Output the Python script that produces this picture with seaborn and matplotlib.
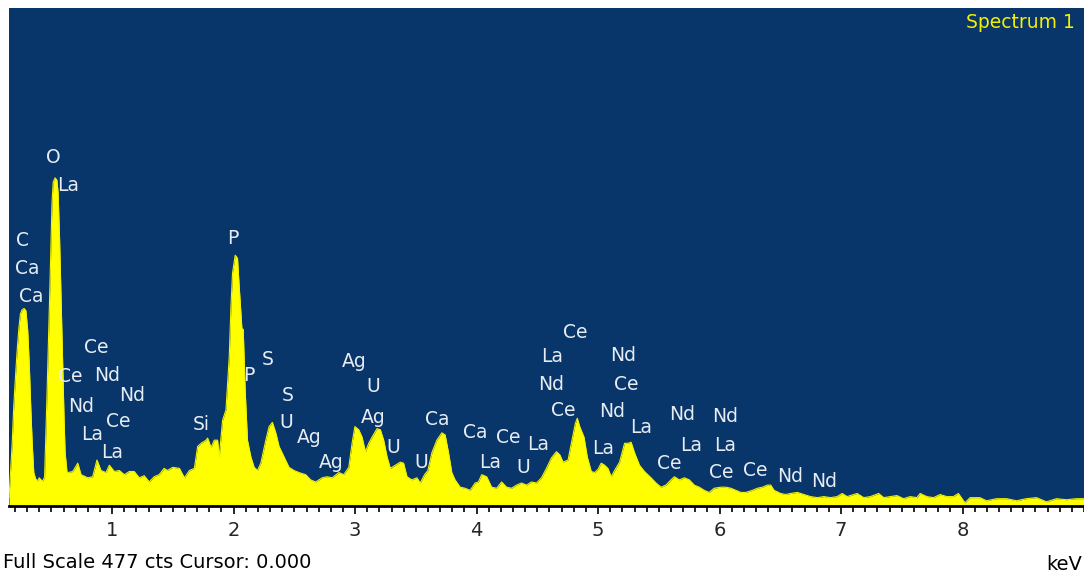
import numpy as np
import pandas as pd
import matplotlib
matplotlib.use('Agg')
import matplotlib.pyplot as plt
import seaborn as sns
from matplotlib import ticker

# spectrum: energy (keV) and counts, split by region
low_kev = [0.151, 0.165, 0.178, 0.19, 0.206, 0.22, 0.233, 0.245, 0.26, 0.275, 0.29, 0.305, 0.318, 0.33, 0.342,
           0.355, 0.37, 0.385, 0.40, 0.415, 0.43, 0.444, 0.463, 0.487, 0.505, 0.515, 0.53, 0.545, 0.555, 0.567,
           0.582, 0.594, 0.605, 0.613, 0.629, 0.635, 0.676, 0.717, 0.744, 0.799, 0.840, 0.875, 0.908, 0.949, 0.977,
           1.018, 1.059, 1.100, 1.141, 1.182, 1.223, 1.264, 1.305, 1.346, 1.387, 1.428, 1.455]
low_cts = [8, 35, 62, 95, 127, 152, 171, 184, 188, 189, 187, 168, 135, 95, 60,
           32, 26, 24, 27, 25, 24, 28, 103, 207, 290, 310, 314, 312, 300, 257,
           188, 131, 80, 51, 32, 32, 33, 41, 30, 27, 28, 44, 34, 32, 39,
           33, 34, 30, 33, 33, 27, 29, 23, 28, 30, 36, 34]

mid_kev = [1.499, 1.554, 1.595, 1.636, 1.677, 1.704, 1.732, 1.773, 1.786, 1.814, 1.841, 1.868, 1.882, 1.909, 1.937,
           1.964, 1.978, 1.991, 2.013, 2.032, 2.046, 2.068, 2.079, 2.095, 2.114, 2.142, 2.169, 2.196, 2.224, 2.265,
           2.292, 2.319, 2.347, 2.374, 2.415, 2.456, 2.497, 2.538, 2.593, 2.634, 2.675, 2.729, 2.770, 2.811, 2.866,
           2.907, 2.948, 2.975, 2.998, 3.030, 3.057, 3.085, 3.112, 3.140, 3.180, 3.208, 3.235, 3.263, 3.290, 3.331,
           3.372, 3.399, 3.427, 3.467, 3.509, 3.536, 3.572, 3.599, 3.632, 3.673, 3.714, 3.741, 3.769, 3.796, 3.823,
           3.865, 3.905, 3.947, 3.988, 4.015, 4.042, 4.083]
mid_cts = [37, 36, 27, 34, 36, 57, 60, 63, 65, 56, 63, 63, 47, 82, 92,
           143, 191, 223, 240, 237, 210, 170, 169, 111, 63, 47, 37, 34, 41, 63,
           76, 80, 70, 57, 47, 37, 34, 32, 30, 25, 23, 27, 28, 27, 32,
           30, 37, 60, 76, 73, 66, 52, 60, 66, 74, 73, 63, 47, 36, 39,
           42, 41, 28, 25, 27, 22, 30, 34, 51, 63, 70, 68, 51, 32, 25,
           18, 17, 15, 22, 23, 30, 28]

high_kev = [4.124, 4.165, 4.206, 4.247, 4.288, 4.329, 4.370, 4.411, 4.452, 4.493, 4.534, 4.575, 4.616, 4.657, 4.685,
            4.712, 4.753, 4.780, 4.813, 4.829, 4.849, 4.884, 4.911, 4.944, 4.972, 4.999, 5.026, 5.054, 5.081, 5.108,
            5.136, 5.177, 5.218, 5.245, 5.272, 5.300, 5.341, 5.382, 5.436, 5.477, 5.518, 5.559, 5.600, 5.628, 5.669,
            5.710, 5.751, 5.792, 5.833, 5.874, 5.915, 5.956, 6.011, 6.052, 6.093, 6.134, 6.175, 6.216, 6.271, 6.312,
            6.353, 6.394, 6.421, 6.449, 6.503, 6.544, 6.585, 6.640, 6.695, 6.749, 6.804, 6.859, 6.913, 6.968, 7.009,
            7.050, 7.132, 7.187, 7.241, 7.310, 7.351, 7.405, 7.460, 7.515, 7.569, 7.624, 7.651, 7.706, 7.761, 7.815,
            7.870, 7.925, 7.966, 8.020, 8.062, 8.143, 8.198, 8.280, 8.363, 8.445, 8.526, 8.609, 8.691, 8.773, 8.855,
            8.937, 9.0]
high_cts = [18, 17, 23, 18, 17, 20, 22, 20, 23, 22, 27, 36, 46, 52, 49,
            42, 44, 60, 79, 84, 76, 66, 47, 33, 32, 35, 41, 39, 36, 28,
            34, 42, 60, 60, 61, 51, 39, 33, 27, 22, 18, 20, 25, 28, 25,
            27, 25, 20, 18, 15, 13, 17, 18, 18, 17, 15, 13, 13, 15, 17,
            18, 20, 20, 15, 12, 11, 12, 13, 11, 9, 8, 9, 8, 9, 12,
            9, 12, 8, 9, 12, 8, 9, 10, 7, 9, 8, 12, 9, 8, 11,
            9, 9, 12, 3, 8, 8, 5, 7, 7, 5, 7, 8, 4, 7, 6,
            7, 7]

# peak identification labels (element, keV, counts)
label_text = ['C', 'Ca', 'Ca', 'O', 'La', 'Ce', 'Ce', 'Nd', 'Nd', 'Nd', 'Ce', 'La', 'La',
              'Si', 'P', 'P', 'S', 'S', 'U', 'Ag', 'Ag', 'Ag', 'U', 'Ag', 'U', 'U', 'Ca',
              'Ca', 'La', 'Ce', 'U', 'La', 'Ce', 'La', 'Nd', 'Ce', 'Nd', 'Ce', 'Nd', 'La', 'La',
              'Ce', 'Nd', 'La', 'Nd', 'La', 'Ce', 'Ce', 'Nd', 'Nd']
label_kev = [0.266, 0.299, 0.331, 0.512, 0.635, 0.873, 0.659, 0.955, 1.168, 0.742, 1.053, 0.832, 1.004,
             1.734, 1.997, 2.128, 2.284, 2.448, 2.431, 2.620, 2.800, 2.989, 3.153, 3.153, 3.317, 3.547, 3.678,
             3.990, 4.113, 4.261, 4.384, 4.507, 4.810, 4.622, 4.614, 4.712, 5.204, 5.229, 5.114, 5.352, 5.040,
             5.582, 5.696, 5.770, 6.049, 6.049, 6.016, 6.295, 6.582, 6.861]
label_cts = [254, 227, 200, 333, 307, 152, 124, 125, 106, 95, 81, 68, 51,
             78, 256, 125, 140, 106, 80, 66, 42, 138, 114, 85, 56, 42, 83,
             70, 42, 66, 37, 59, 166, 143, 116, 91, 144, 116, 90, 75, 55,
             41, 88, 58, 86, 58, 32, 34, 28, 23]

full_scale = 477
ticks_kev = [1, 2, 3, 4, 5, 6, 7, 8]

df = pd.DataFrame({'keV': low_kev + mid_kev + high_kev,
                   'cts': low_cts + mid_cts + high_cts})

sns.set_style('white')
plt.rcParams['font.family'] = ['DejaVu Sans']

fig = plt.figure(figsize=(10.84, 5.75), dpi=100)
ax = fig.add_axes([9 / 1084, 69 / 575, 1075 / 1084, 498.5 / 575])
ax.set_facecolor('#08356A')

ax.fill_between(df['keV'], 0, df['cts'], color='#FFFF00', lw=0)
sns.lineplot(data=df, x='keV', y='cts', color='#F2F200', lw=0.8, ax=ax, sort=False)

for t, e, c in zip(label_text, label_kev, label_cts):
    ax.text(e, c, t, color='#E6ECF2', fontsize=13.5, ha='center', va='center')

ax.text(0.9916, 0.969, 'Spectrum 1', color='#F0F000', fontsize=13.5,
        ha='right', va='center', transform=ax.transAxes)

ax.set_xlim(0.151, 9.0)
ax.set_ylim(0, full_scale)
ax.set_xlabel('')
ax.set_ylabel('')
ax.set_yticks([])
ax.set_xticks(ticks_kev)
ax.set_xticklabels([str(t) for t in ticks_kev])
ax.xaxis.set_minor_locator(ticker.MultipleLocator(0.1))
ax.tick_params(axis='x', which='major', direction='out', length=6, width=1.2,
               color='black', labelsize=14, pad=5, bottom=True)
ax.tick_params(axis='x', which='minor', direction='out', length=4, width=1.2,
               color='black', bottom=True)
for s in ['top', 'right', 'left']:
    ax.spines[s].set_visible(False)
ax.spines['bottom'].set_color('black')
ax.spines['bottom'].set_linewidth(2)

fig.text(3 / 1084, 1 - 563 / 575, 'Full Scale %d cts Cursor: 0.000' % full_scale,
         fontsize=14, ha='left', va='center', color='black')
fig.text(1082 / 1084, 1 - 565 / 575, 'keV', fontsize=14, ha='right', va='center', color='black')

fig.savefig('out.png', dpi=100, facecolor='white')
